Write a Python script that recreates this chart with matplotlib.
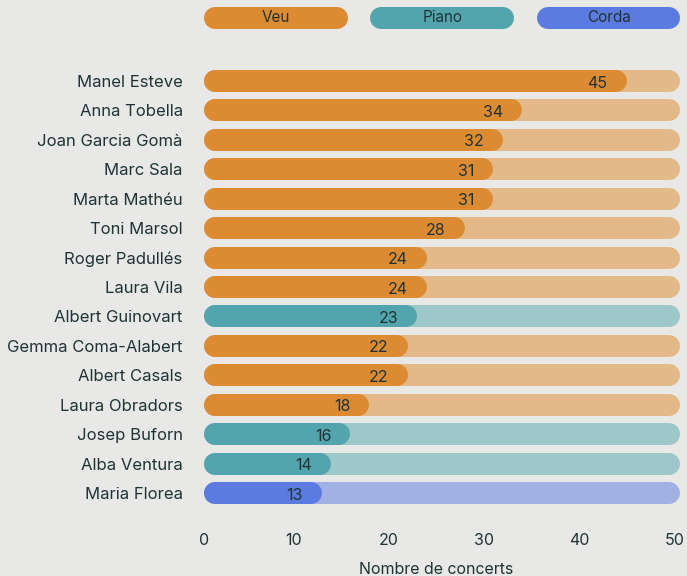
import matplotlib
matplotlib.use("Agg")
import matplotlib.pyplot as plt
from matplotlib.transforms import ScaledTranslation

names = ["Manel Esteve", "Anna Tobella", "Joan Garcia Gomà", "Marc Sala", "Marta Mathéu",
         "Toni Marsol", "Roger Padullés", "Laura Vila", "Albert Guinovart", "Gemma Coma-Alabert",
         "Albert Casals", "Laura Obradors", "Josep Buforn", "Alba Ventura", "Maria Florea"]
concerts = [45, 34, 32, 31, 31, 28, 24, 24, 23, 22, 22, 18, 16, 14, 13]
groups = ["Veu", "Veu", "Veu", "Veu", "Veu", "Veu", "Veu", "Veu", "Piano", "Veu",
          "Veu", "Veu", "Piano", "Piano", "Corda"]
legend_labels = ["Veu", "Piano", "Corda"]
xmax = 50
xticks = [0, 10, 20, 30, 40, 50]

colors = {"Veu": "#DC8B33", "Piano": "#52A5AC", "Corda": "#5B7BE0"}
light = {"Veu": "#E3B98A", "Piano": "#9DC7C8", "Corda": "#A1B1E4"}
bg = "#E8E8E6"
txt = "#1F3336"

plt.rcParams['font.family'] = ['Inter', 'DejaVu Sans']

W, H = 687, 576
fig = plt.figure(figsize=(W / 100, H / 100), dpi=100, facecolor=bg)
ax_l, ax_r = 198 / W, 674.3 / W
ax = fig.add_axes([ax_l, 1 - 507.7 / H, ax_r - ax_l, 441.4 / H])
ax.set_facecolor(bg)
ax.set_xlim(0, xmax)
ax.set_ylim(len(names) - 0.5, -0.5)

ax_w_px = (ax_r - ax_l) * W
bar_px = 22
r = (bar_px / 2) / ax_w_px * xmax  # cap radius in data units
lw = bar_px * 72 / 100
off = 6 / ax_w_px * xmax  # bars are inset slightly from zero

for i, (n, v, g) in enumerate(zip(names, concerts, groups)):
    ax.plot([off + r, xmax + off - r], [i, i], color=light[g], lw=lw,
            solid_capstyle='round', zorder=1, clip_on=False)
    ax.plot([off + r, v - r], [i, i], color=colors[g], lw=lw,
            solid_capstyle='round', zorder=2, clip_on=False)
    ax.text(v - 2.0, i + 0.07, str(v), ha='right', va='center', fontsize=11.5, color=txt, zorder=3)

ax.set_yticks(range(len(names)))
ax.set_yticklabels(names, fontsize=12, color=txt)
ax.set_xticks(xticks)
ax.set_xticklabels([str(t) for t in xticks], fontsize=11.5, color=txt)
ax.tick_params(axis='y', length=0, pad=11)
ax.tick_params(axis='x', length=0, pad=18)
first = ax.get_xticklabels()[0]
first.set_transform(first.get_transform() + ScaledTranslation(6 / 100, 0, fig.dpi_scale_trans))
ax.set_xlabel("Nombre de concerts", fontsize=11.5, color=txt, labelpad=10)
for s in ax.spines.values():
    s.set_visible(False)

# legend pills
lax = fig.add_axes([ax_l, 1 - 29 / H, ax_r - ax_l, 22 / H])
lax.set_xlim(0, xmax)
lax.set_ylim(0, 1)
lax.axis('off')
gap = 2.4
pw = (xmax - 2 * gap) / 3
for k, lab in enumerate(legend_labels):
    x0 = off + k * (pw + gap)
    lax.plot([x0 + r, x0 + pw - r], [0.5, 0.5], color=colors[lab], lw=lw,
             solid_capstyle='round', clip_on=False)
    lax.text(x0 + pw / 2, 0.5, lab, ha='center', va='center', fontsize=11, color=txt)

fig.savefig("out.png", dpi=100, facecolor=bg)
